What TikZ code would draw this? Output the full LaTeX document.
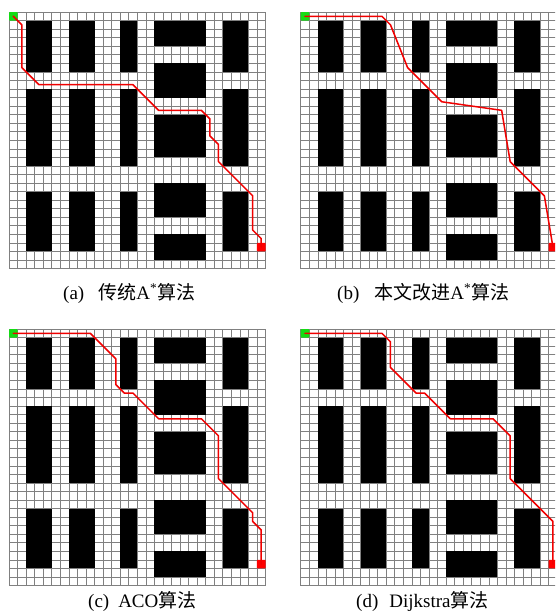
\documentclass[tikz,border=0pt]{standalone}
\usepackage{fontspec}
\setmainfont{Liberation Serif}
\newfontfamily\cjk{Noto Sans CJK SC}
\definecolor{startgreen}{RGB}{20,220,20}
\definecolor{routered}{RGB}{240,0,0}
\tikzset{
  gridline/.style={draw=black!50, line width=0.6pt},
  obst/.style={fill=black},
  route/.style={draw=routered, line width=1.5pt, line join=round, line cap=round},
  startcell/.style={fill=startgreen, rounded corners=0.8pt},
  goalcell/.style={fill=red, rounded corners=0.5pt},
  capt/.style={font=\fontsize{19}{21}\selectfont, anchor=west, inner sep=0pt},
  panel/.style={x=8.55pt, y=-8.55pt}
}
\newcommand\drawpanel[1]{%
  \foreach \k in {0,...,30}{\draw[gridline] (\k,0) -- (\k,30); \draw[gridline] (0,\k) -- (30,\k);}
  \foreach \a/\b in {2/5,7/10,13/15,25/28}{%
    \foreach \r/\s in {1/7,9/18,21/28}{\fill[obst] (\a,\r) rectangle (\b,\s);}}
  \foreach \r/\s in {1/4,6/10,12/17,20/24,26/29}{\fill[obst] (17,\r) rectangle (23,\s);}
  \fill[startcell] (0,0) rectangle (1,1);
  \fill[goalcell] (29,27) rectangle (30,28);
  \begin{scope}[shift={(0.5,0.5)}]
    \draw[route] #1;
  \end{scope}
}
\begin{document}
\begin{tikzpicture}[x=1pt,y=-1pt]
\useasboundingbox (0,0) rectangle (555,613);
\clip (0,0) rectangle (555,613);
\fill[white] (0,0) rectangle (555,613);
% (a)
\begin{scope}[shift={(9,12)}, panel]
  \drawpanel{(0,0) -- (1,1) -- (1,6) -- (3,8) -- (14,8) -- (17,11) -- (22,11) -- (23,12) -- (23,14) -- (24,15) -- (24,17) -- (28,21) -- (28,25) -- (29,26) -- (29,27)}
\end{scope}
% (b)
\begin{scope}[shift={(300.7,12)}, panel]
  \drawpanel{(0,0) -- (9,0) -- (10,1) -- (12,6) -- (16,10) -- (23,11) -- (24,17) -- (28,21) -- (29,27)}
\end{scope}
% (c)
\begin{scope}[shift={(9,329)}, panel]
  \drawpanel{(0,0) -- (9,0) -- (12,3) -- (12,6) -- (13,7) -- (14,7) -- (17,10) -- (22,10) -- (24,12) -- (24,17) -- (28,21) -- (28,22) -- (29,23) -- (29,27)}
\end{scope}
% (d)
\begin{scope}[shift={(300.7,329)}, panel]
  \drawpanel{(0,0) -- (9,0) -- (10,1) -- (10,4) -- (13,7) -- (14,7) -- (17,10) -- (22,10) -- (24,12) -- (24,17) -- (28,21) -- (29,22) -- (29,27)}
\end{scope}
\node[capt] (capa) at (63,293) {(a)\hspace{14pt}{\cjk 传统}A\textsuperscript{*}{\cjk 算法}};
\node[capt] (capb) at (337,293) {(b)\hspace{15pt}{\cjk 本文改进}A\textsuperscript{*}{\cjk 算法}};
\node[capt] (capc) at (88,601) {(c)\hspace{9pt}ACO{\cjk 算法}};
\node[capt] (capd) at (356,601) {(d)\hspace{11pt}Dijkstra{\cjk 算法}};
\end{tikzpicture}
\end{document}
